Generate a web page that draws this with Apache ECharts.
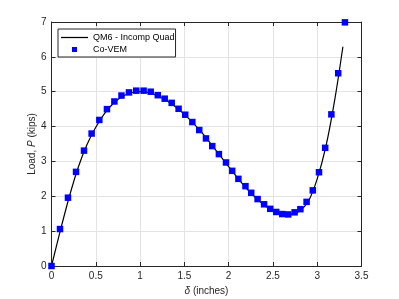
<!DOCTYPE html>
<html><head><meta charset="utf-8">
<script src="https://cdn.jsdelivr.net/npm/echarts@6/dist/echarts.min.js"></script>
<style>html,body{margin:0;padding:0;background:#fff}#c{width:399px;height:299px}</style>
</head><body><div id="c"></div>
<script>
var seriesNames = ['QM6 - Incomp Quad', 'Co-VEM'];
var xTicks = [0, 0.5, 1, 1.5, 2, 2.5, 3, 3.5];
var yTicks = [0, 1, 2, 3, 4, 5, 6, 7];
// QM6 reference curve
var qm6X = [0,0.1,0.2,0.3,0.4,0.5,0.6,0.7,0.8,0.9,1.0,1.1,1.2,1.3,1.4,1.5,1.6,1.7,1.8,1.9,2.0,2.1,2.2,2.3,2.4,2.5,2.6,2.7,2.8,2.9,3.0,3.1,3.2,3.29];
var qm6Y = [0,1.02,1.98,2.82,3.48,3.98,4.38,4.67,4.86,4.97,5.0,4.97,4.88,4.75,4.57,4.35,4.10,3.82,3.50,3.18,2.85,2.53,2.23,1.97,1.75,1.58,1.49,1.48,1.58,1.86,2.50,3.45,4.80,6.29];
// Co-VEM points
var vemX = [0,0.096,0.186,0.277,0.367,0.453,0.54,0.626,0.71,0.79,0.875,0.957,1.04,1.12,1.20,1.278,1.357,1.435,1.51,1.59,1.668,1.744,1.815,1.89,1.97,2.04,2.11,2.19,2.255,2.327,2.40,2.47,2.537,2.605,2.673,2.745,2.81,2.88,2.95,3.02,3.09,3.16,3.237,3.313];
var vemY = [0,1.06,1.96,2.70,3.31,3.80,4.19,4.50,4.72,4.89,4.98,5.03,5.03,5.0,4.90,4.80,4.68,4.51,4.34,4.13,3.90,3.66,3.44,3.21,2.97,2.73,2.50,2.29,2.10,1.92,1.77,1.64,1.55,1.49,1.48,1.54,1.63,1.84,2.17,2.69,3.39,4.35,5.53,6.99];

var qm6 = qm6X.map(function(x,i){return [x,qm6Y[i]];});
var vem = vemX.map(function(x,i){return [x,vemY[i]];});
var font = 'Liberation Sans, Arial, sans-serif';
var txt = '#262626';
var chart = echarts.init(document.getElementById('c'), null, {renderer:'canvas'});
function ax(pos, show, isX){
  var t = isX ? xTicks : yTicks;
  return {
    type:'value', position:pos, min:t[0], max:t[t.length-1], interval:isX?0.5:1,
    axisLine:{show:true, onZero:false, lineStyle:{color:txt, width:1}},
    axisTick:{show:true, inside:true, length:4, lineStyle:{color:txt}},
    axisLabel:{show:show, color:txt, fontFamily:font, fontSize:10, margin:5},
    splitLine:{show:show, lineStyle:{color:'#e3e3e3', width:1}}
  };
}
var xa = ax('bottom', true, true);
xa.name = '{i|δ} (inches)';
xa.nameLocation = 'middle'; xa.nameGap = 20; xa.nameMoveOverlap = false;
xa.nameTextStyle = {color:txt, fontFamily:font, fontSize:10, rich:{i:{fontStyle:'italic', fontFamily:font, fontSize:10, color:txt}}};
var ya = ax('left', true, false);
ya.name = 'Load, {i|P} (kips)';
ya.nameLocation = 'middle'; ya.nameGap = 14; ya.nameMoveOverlap = false;
ya.nameTextStyle = {color:txt, fontFamily:font, fontSize:10, rich:{i:{fontStyle:'italic', fontFamily:font, fontSize:10, color:txt}}};
var xa2 = ax('top', false, true);
var ya2 = ax('right', false, false);
chart.setOption({
  animation:false,
  backgroundColor:'#fff',
  grid:{left:51.5, right:37.5, top:22, bottom:33, outerBoundsMode:'none', containLabel:false},
  xAxis:[xa, xa2],
  yAxis:[ya, ya2],
  legend:{
    orient:'vertical', left:58, top:29, padding:[4,1,3,3], itemGap:3,
    itemWidth:27, itemHeight:5,
    borderColor:'#262626', borderWidth:1, backgroundColor:'#fff',
    textStyle:{color:'#000', fontFamily:font, fontSize:9},
    data:[
      {name:seriesNames[0], icon:'path://M0,0 L30,0 L30,1.4 L0,1.4 Z', itemStyle:{color:'#000'}},
      {name:seriesNames[1], icon:'path://M0,0 L5,0 L5,5 L0,5 Z', itemStyle:{color:'#0000ff'}}
    ]
  },
  series:[
    {name:seriesNames[0], type:'line', data:qm6, smooth:0.3, symbol:'none', lineStyle:{color:'#000', width:1.2}, itemStyle:{color:'#000'}, z:2},
    {name:seriesNames[1], type:'scatter', data:vem, symbol:'rect', symbolSize:6.5, itemStyle:{color:'#0000ff', opacity:1}, z:3}
  ]
});
</script></body></html>
